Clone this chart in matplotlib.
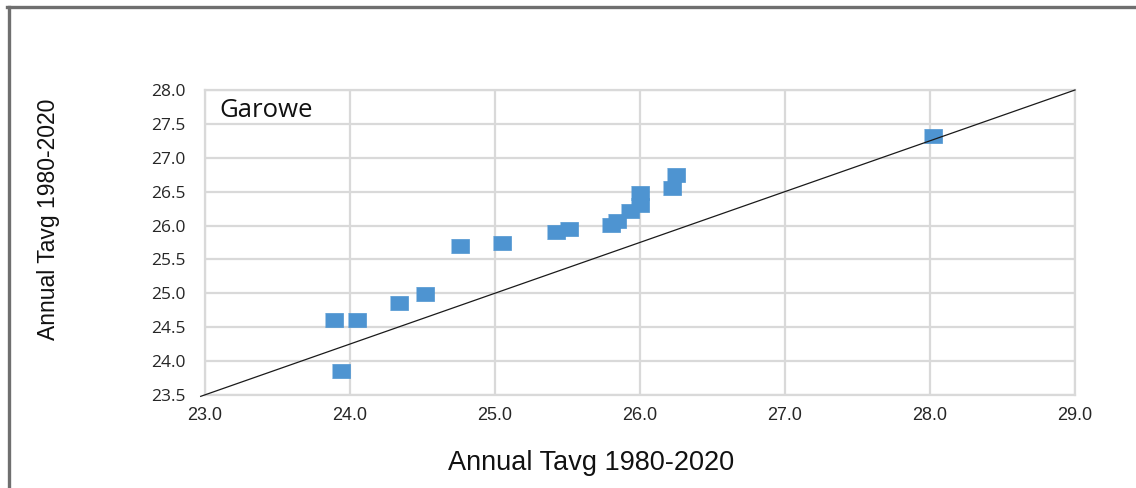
import matplotlib
matplotlib.use("Agg")
import matplotlib.pyplot as plt
from matplotlib.lines import Line2D

# Annual mean temperature, two 1980-2020 series plotted against each other (Garowe)
tavg_x = [23.89, 24.05, 23.94, 24.34, 24.52, 24.76, 25.05, 25.42, 25.51,
          25.80, 25.84, 25.93, 26.00, 26.00, 26.22, 26.25, 28.02]
tavg_y = [24.61, 24.61, 23.86, 24.85, 24.99, 25.70, 25.74, 25.91, 25.95,
          26.01, 26.06, 26.21, 26.30, 26.48, 26.55, 26.75, 27.32]

# Reference line endpoints
line_x = [22.97, 29.0]
line_y = [23.48, 28.0]

x_ticks = [23.0, 24.0, 25.0, 26.0, 27.0, 28.0, 29.0]
y_ticks = [23.5, 24.0, 24.5, 25.0, 25.5, 26.0, 26.5, 27.0, 27.5, 28.0]

station = "Garowe"
axis_label = "Annual Tavg 1980-2020"

fig = plt.figure(figsize=(11.36, 4.88), dpi=100)
fig.patch.set_facecolor("white")

# Outer frame (top and left edges)
frame_col = "#6f6f6f"
fig.add_artist(Line2D([0.0075, 0.0075], [0.0, 0.986], transform=fig.transFigure,
                      color=frame_col, lw=2.4))
fig.add_artist(Line2D([0.0065, 1.0], [0.986, 0.986], transform=fig.transFigure,
                      color=frame_col, lw=2.4))

ax = fig.add_axes([0.1805, 0.1906, 0.7658, 0.625])
ax.set_xlim(23.0, 29.0)
ax.set_ylim(23.5, 28.0)
ax.set_xticks(x_ticks)
ax.set_yticks(y_ticks)
ax.set_xticklabels([f"{v:.1f}" for v in x_ticks], fontfamily="Liberation Sans",
                   fontsize=13, color="#262626")
ax.set_yticklabels([f"{v:.1f}" for v in y_ticks], fontfamily="Open Sans",
                   fontsize=12.5, color="#262626")
ax.tick_params(axis="x", length=0, pad=9)
ax.tick_params(axis="y", length=0, pad=14)

ax.grid(True, color="#d9d9d9", lw=1.6)
ax.set_axisbelow(True)
for sp in ax.spines.values():
    sp.set_color("#d9d9d9")
    sp.set_linewidth(1.6)

# Wide rectangular markers
rect = [(-1.27, -1.0), (1.27, -1.0), (1.27, 1.0), (-1.27, 1.0)]
ax.plot(tavg_x, tavg_y, linestyle="none", marker=rect, markersize=13.5,
        markerfacecolor="#4e94d1", markeredgecolor="#4e94d1", markeredgewidth=0.5,
        zorder=3)

ax.plot(line_x, line_y, color="#1a1a1a", lw=0.9, clip_on=False, zorder=4)

ax.text(0.017, 0.975, station, transform=ax.transAxes, ha="left", va="top",
        fontfamily="Open Sans", fontsize=18.5, color="#111111")

fig.text(0.52, 0.052, axis_label, ha="center", va="center",
         fontfamily="Liberation Sans", fontsize=19.5, color="#111111")
fig.text(0.043, 0.55, axis_label, ha="center", va="center", rotation=90,
         fontfamily="Liberation Sans", fontsize=16.5, color="#111111")

fig.savefig("out.png", dpi=100, facecolor="white")
